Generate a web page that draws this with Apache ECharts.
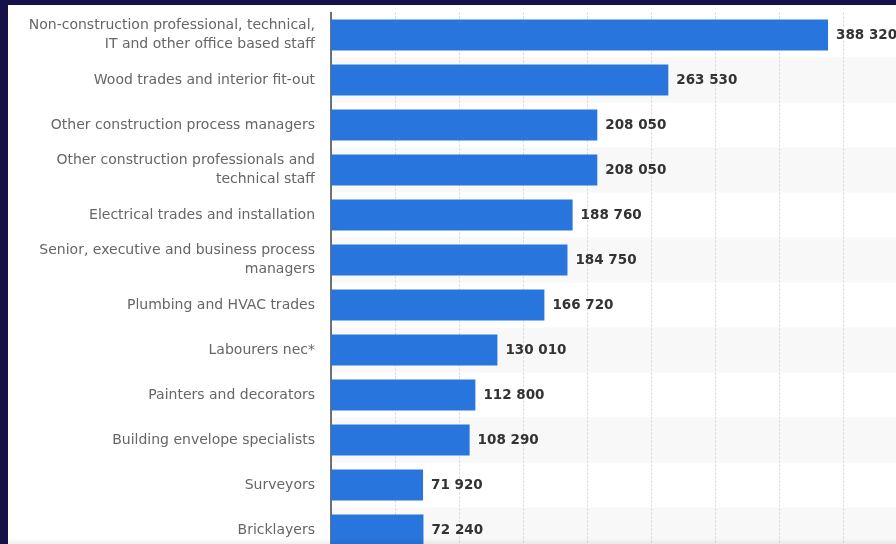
<!DOCTYPE html>
<html>
<head>
<meta charset="utf-8">
<script src="https://cdn.jsdelivr.net/npm/echarts@6/dist/echarts.min.js"></script>
<style>
html,body{margin:0;padding:0;width:896px;height:544px;overflow:hidden;background:#15124a;position:relative;}
#chart{position:absolute;left:8px;top:5px;width:910px;height:560px;background:#ffffff;}
#shade{position:absolute;left:8px;top:538px;width:888px;height:6px;background:linear-gradient(to bottom, rgba(0,0,0,0), rgba(0,0,0,0.06));pointer-events:none;}
</style>
</head>
<body>
<div id="chart"></div>
<div id="shade"></div>
<script>
const categories = [
  "Non-construction professional, technical,\nIT and other office based staff",
  "Wood trades and interior fit-out",
  "Other construction process managers",
  "Other construction professionals and\ntechnical staff",
  "Electrical trades and installation",
  "Senior, executive and business process\nmanagers",
  "Plumbing and HVAC trades",
  "Labourers nec*",
  "Painters and decorators",
  "Building envelope specialists",
  "Surveyors",
  "Bricklayers"
];
const values = [388320, 263530, 208050, 208050, 188760, 184750, 166720, 130010, 112800, 108290, 71920, 72240];

const chart = echarts.init(document.getElementById('chart'), null, {renderer: 'canvas'});
const fmt = v => String(v).replace(/\B(?=(\d{3})+(?!\d))/g, ' ');
chart.setOption({
  animation: false,
  backgroundColor: 'transparent',
  grid: {left: 323, top: 7.5, width: 576, height: 540, containLabel: false},
  xAxis: {
    type: 'value', min: 0, max: 450000, interval: 50000,
    axisLabel: {show: false}, axisLine: {show: false}, axisTick: {show: false},
    splitLine: {show: true, lineStyle: {color: '#d4d4d4', type: [2, 2], width: 1}}
  },
  yAxis: {
    type: 'category', data: categories, inverse: true,
    axisTick: {show: false},
    axisLine: {show: true, lineStyle: {color: '#444', width: 1.5}},
    axisLabel: {
      color: '#666', fontSize: 14, fontFamily: 'DejaVu Sans', margin: 16,
      lineHeight: 19, align: 'right'
    },
    splitArea: {show: true, areaStyle: {color: ['rgba(255,255,255,0)', '#f8f8f8']}}
  },
  series: [{
    type: 'bar', data: values, barWidth: '69%',
    itemStyle: {color: '#2876dd'},
    label: {
      show: true, position: 'right', distance: 8,
      color: '#333', fontWeight: 'bold', fontSize: 13.5, fontFamily: 'DejaVu Sans',
      formatter: p => fmt(p.value)
    }
  }]
});
</script>
</body>
</html>
